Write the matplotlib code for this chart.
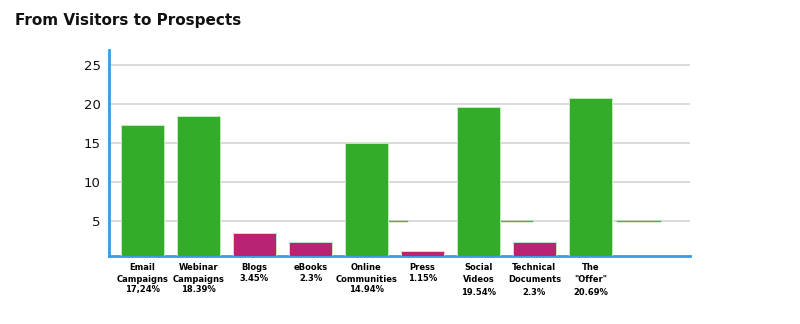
import matplotlib.pyplot as plt

# Categorias e percentuais
categorias = ['Email\nCampaigns', 'Webinar\nCampaigns', 'Blogs', 'eBooks',
              'Online\nCommunities', 'Press', 'Social\nVideos', 'Technical\nDocuments',
              'The\n"Offer"']
percentuais = ['17,24%', '18.39%', '3.45%', '2.3%', '14.94%', '1.15%', '19.54%', '2.3%', '20.69%']
valores = [17.24, 18.39, 3.45, 2.3, 14.94, 1.15, 19.54, 2.3, 20.69]
grupo = ['g', 'g', 'm', 'm', 'g', 'm', 'g', 'm', 'g']
# rótulos cujo percentual fica um pouco mais abaixo
afastado = [False, False, False, False, False, False, True, True, True]

# Pequenos traços verdes no nível 5
nivel_ref = 5
trechos_ref = [(4.4, 4.72), (6.4, 6.95), (8.47, 9.24)]

cores = {'g': '#33ad29', 'm': '#b92373'}
azul = '#3a9be0'

fig = plt.figure(figsize=(8, 3.24), dpi=100)
ax = fig.add_axes([0.13625, 0.21, 0.72625, 0.636])

x = list(range(len(categorias)))
ax.bar(x, valores, width=0.78, color=[cores[g] for g in grupo],
       edgecolor='#c8f0c0', linewidth=0.6, zorder=3)

for x0, x1 in trechos_ref:
    ax.plot([x0, x1], [nivel_ref, nivel_ref], color='#4caf50', linewidth=1, zorder=2)

ax.set_xlim(-0.6, 9.78)
ax.set_ylim(0.5, 26.9)
ax.set_yticks([5, 10, 15, 20, 25])
ax.set_xticks(x)
ax.set_xticklabels(categorias, fontsize=6, fontweight='bold', linespacing=1.45)
ax.tick_params(axis='both', length=0)
ax.tick_params(axis='y', labelsize=9.5, pad=6, colors='#111111')
ax.tick_params(axis='x', pad=5)

# percentuais abaixo dos nomes
for i, (nome, pct, af) in enumerate(zip(categorias, percentuais, afastado)):
    linhas = nome.count('\n') + 1
    desl = 8.6 + linhas * 7.6 + (2.2 if af else 0)
    ax.annotate(pct, xy=(i, 0), xycoords=('data', 'axes fraction'),
                xytext=(0, -desl), textcoords='offset points',
                ha='center', va='center', fontsize=6, fontweight='bold')

ax.yaxis.grid(True, color='#d4d4d4', linewidth=1.2, zorder=0)
ax.set_axisbelow(True)

for lado in ['top', 'right']:
    ax.spines[lado].set_visible(False)
for lado in ['left', 'bottom']:
    ax.spines[lado].set_color(azul)
    ax.spines[lado].set_linewidth(2)

fig.text(0.019, 0.938, 'From Visitors to Prospects', fontsize=11, fontweight='bold',
         va='center', ha='left', color='#111111')

plt.savefig('out.png')
